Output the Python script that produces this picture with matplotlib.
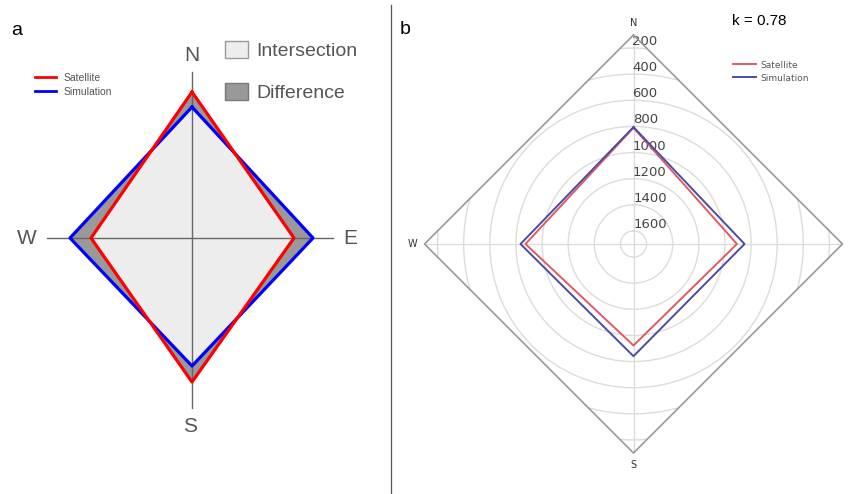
import numpy as np
import matplotlib.pyplot as plt
from matplotlib.patches import Polygon, Patch
from matplotlib.lines import Line2D

# compass order: N, E, S, W
directions = ['N', 'E', 'S', 'W']

# panel a: schematic shapes (arbitrary length units)
sat_a = [146, 102, 144, 101]
sim_a = [131, 121, 128, 122]

# panel b: radar values (radial axis runs from 1700 at centre to 100 at rim)
sat_b = [810, 908, 923, 873]
sim_b = [805, 850, 841, 835]
r_ticks = [200, 400, 600, 800, 1000, 1200, 1400, 1600]
r_centre, r_rim = 1700, 100
k_value = 0.78

W, H = 849, 494
fig = plt.figure(figsize=(W / 100, H / 100), dpi=100)
plt.rcParams['font.family'] = ['Liberation Sans', 'DejaVu Sans']

# ---------- panel a ----------
ax = fig.add_axes([0, 0, 390 / W, 1])
ax.set_xlim(-192, 198)
ax.set_ylim(-256, 238)
ax.axis('off')

ang = np.deg2rad([90, 0, -90, 180])  # N, E, S, W in cartesian angles


def diamond(vals):
    v = np.asarray(vals, float)
    return np.column_stack([v * np.cos(ang), v * np.sin(ang)])


p_sat = diamond(sat_a)
p_sim = diamond(sim_a)

ax.plot([0, 0], [-170, 166], color='#666666', lw=1, zorder=1)
ax.plot([-145, 141], [0, 0], color='#666666', lw=1, zorder=1)

# union in dark grey, then intersection in light grey
for p in (p_sat, p_sim):
    ax.add_patch(Polygon(p, closed=True, facecolor='#999999', edgecolor='none', zorder=0))
clip = Polygon(p_sim, closed=True, transform=ax.transData, facecolor='none', edgecolor='none')
ax.add_patch(clip)
inter = Polygon(p_sat, closed=True, facecolor='#ededed', edgecolor='none', zorder=0.5)
ax.add_patch(inter)
inter.set_clip_path(clip)

ax.plot(*np.vstack([p_sim, p_sim[:1]]).T, color='#0000ff', lw=2.3, zorder=3)
ax.plot(*np.vstack([p_sat, p_sat[:1]]).T, color='#ff0000', lw=2.3, zorder=4)

lab_pos = {'N': (0, 182), 'E': (158, 0), 'S': (-2, -189), 'W': (-165, 0)}
for d in directions:
    ax.text(*lab_pos[d], d, fontsize=15, color='#555555', ha='center', va='center')

ax.text(-181, 207, 'a', fontsize=14, color='black', ha='left', va='center')

leg1 = ax.legend(handles=[Line2D([], [], color='#ff0000', lw=2, label='Satellite'),
                          Line2D([], [], color='#0000ff', lw=2, label='Simulation')],
                 loc='upper left', bbox_to_anchor=(0.09, 0.852), frameon=False,
                 fontsize=7.5, handlelength=2.0, labelspacing=0.35, handletextpad=0.7,
                 labelcolor='#555555', borderpad=0, borderaxespad=0)
ax.add_artist(leg1)
ax.legend(handles=[Patch(facecolor='#ededed', edgecolor='#999999', label='Intersection'),
                   Patch(facecolor='#999999', edgecolor='#777777', label='Difference')],
          loc='upper left', bbox_to_anchor=(0.577, 0.917), frameon=False,
          fontsize=14, handlelength=1.18, handleheight=0.95, labelspacing=1.2,
          handletextpad=0.42, labelcolor='#555555', borderpad=0, borderaxespad=0)

# divider between panels
fig.add_artist(Line2D([391 / W, 391 / W], [0, 1 - 5 / H], color='#555555', lw=0.9))

# ---------- panel b ----------
cx, cy, rad = 633.5, 244, 209
axb = fig.add_axes([(cx - rad) / W, (H - cy - rad) / H, 2 * rad / W, 2 * rad / H],
                   projection='polar')
axb.set_theta_zero_location('N')
axb.set_theta_direction(-1)
axb.set_rlim(r_centre, r_rim)
axb.spines['polar'].set_visible(False)
axb.patch.set_visible(False)

theta = np.deg2rad([0, 90, 180, 270])
axb.set_thetagrids([0, 90, 180, 270], labels=['N', '', 'S', 'W'], fontsize=7,
                   color='#333333', family='DejaVu Sans')
axb.set_rgrids(r_ticks, labels=[str(t) for t in r_ticks], angle=-0.4, fontsize=9.5,
               color='#444444', ha='left', va='bottom', family='DejaVu Sans')
axb.tick_params(axis='x', pad=-2)
axb.grid(True, color='#dcdcdc', lw=1)

# diamond frame clips the grid
frame = Polygon(np.column_stack([theta, [r_rim] * 4]), closed=True, transform=axb.transData,
                facecolor='none', edgecolor='none')
axb.add_patch(frame)
for gl in axb.xaxis.get_gridlines() + axb.yaxis.get_gridlines():
    gl.set_clip_path(frame)
tc = np.append(theta, theta[0])
axb.plot(tc, [r_rim] * 5, color='#999999', lw=1.2, clip_on=False)

axb.plot(tc, np.append(sat_b, sat_b[0]), color='#e05a62', lw=1.4, label='Satellite')
axb.plot(tc, np.append(sim_b, sim_b[0]), color='#4b4ba6', lw=1.4, label='Simulation')

fig.text(400 / W, 1 - 30 / H, 'b', fontsize=14, ha='left', va='center')
fig.text(732 / W, 1 - 21 / H, f'k = {k_value}', fontsize=11, ha='left', va='center')
axb.legend(loc='upper left', bbox_to_anchor=((728 - (cx - rad)) / (2 * rad), 1 - (56 - (cy - rad)) / (2 * rad)),
           frameon=False, prop={'family': 'DejaVu Sans', 'size': 6.5}, handlelength=2.6,
           labelspacing=0.45, handletextpad=0.5, labelcolor='#555555', borderpad=0)

fig.savefig('out.png', dpi=100)
